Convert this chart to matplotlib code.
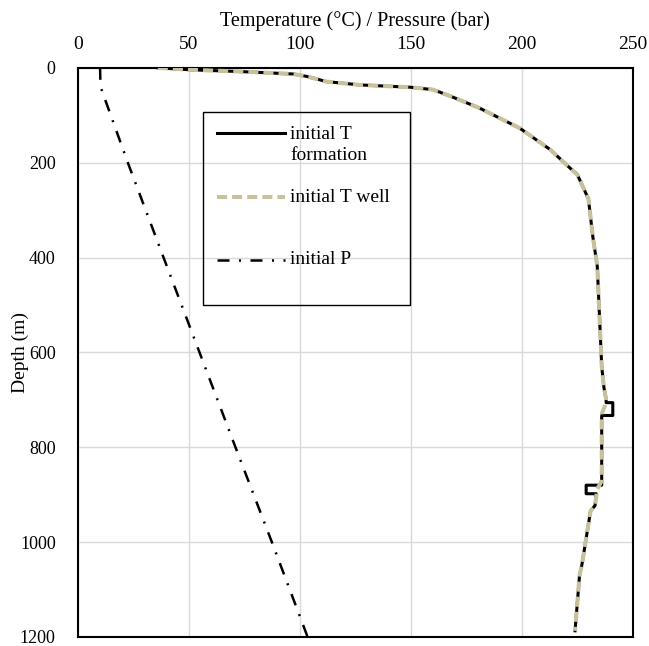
import matplotlib
matplotlib.use('Agg')
import matplotlib.pyplot as plt
from matplotlib.patches import Rectangle

# Данные
depth_form = [0, 4, 8, 13, 18, 29, 36, 41, 46, 60, 85, 127, 173, 204, 225, 276, 356, 418,
              524, 629, 674, 699, 706, 706, 733, 733, 871, 880, 880, 898, 898, 923, 934,
              1050, 1071, 1187]
temp_form = [36, 50, 74, 97, 103, 112, 127, 150, 160, 168, 181, 199, 213, 220, 225, 230, 232, 234,
             235, 236, 237, 238, 238, 241, 241, 236, 236, 236, 229, 229, 233.5, 233, 231,
             227, 226, 224]

depth_well = [0, 4, 8, 13, 18, 29, 36, 41, 46, 60, 85, 127, 173, 204, 225, 276, 356, 418,
              524, 629, 674, 699, 706, 730, 871, 888, 923, 934, 1050, 1071, 1187]
temp_well = [36, 50, 74, 97, 103, 112, 127, 150, 160, 168, 181, 199, 213, 220, 225, 230, 232, 234,
             235, 236, 237, 238, 238, 236, 236, 234, 233, 231, 227, 226, 224]

depth_p = [0, 40, 200, 400, 600, 800, 1000, 1200]
press = [10, 10.2, 22.5, 38.6, 54.8, 71.0, 87.4, 103.5]

x_ticks = [0, 50, 100, 150, 200, 250]
y_ticks = [0, 200, 400, 600, 800, 1000, 1200]

plt.rcParams['font.family'] = ['Liberation Serif', 'DejaVu Serif']
FS = 14

fig = plt.figure(figsize=(6.49, 6.46), dpi=100)
ax = fig.add_axes([0.120, 0.014, 0.855, 0.881])

TAN = '#c9c19c'
ls_well = (0, (2.5, 1.25))
ls_p = (0, (4.8, 3.8, 0.8, 3.8))

ax.plot(temp_form, depth_form, color='black', lw=2.2, zorder=3)
ax.plot(temp_well, depth_well, color=TAN, lw=2.9, linestyle=ls_well, zorder=4)
ax.plot(press, depth_p, color='black', lw=1.8, linestyle=ls_p, zorder=3)

ax.set_xlim(0, 250)
ax.set_ylim(1200, 0)
ax.set_xticks(x_ticks)
ax.set_yticks(y_ticks)
ax.xaxis.tick_top()
ax.xaxis.set_label_position('top')
ax.tick_params(axis='both', length=0)
ax.tick_params(axis='x', pad=10.5, labelsize=FS)
ax.tick_params(axis='y', pad=16, labelsize=13)
ax.set_xlabel('Temperature (°C) / Pressure (bar)', fontsize=14.5, labelpad=7.5)
ax.set_ylabel('Depth (m)', fontsize=FS)
ax.yaxis.set_label_coords(-0.088, 0.5)

ax.grid(True, color='#d9d9d9', lw=1.0)
ax.set_axisbelow(True)
for sp in ax.spines.values():
    sp.set_linewidth(1.5)
    sp.set_color('black')

# легенда вручную (как в Excel)
ax.add_patch(Rectangle((0.225, 0.583), 0.373, 0.340, transform=ax.transAxes,
                       fill=False, ec='black', lw=1.0, zorder=5))
hx = [0.250, 0.373]
ax.plot(hx, [0.886, 0.886], transform=ax.transAxes, color='black', lw=2.2, zorder=5)
ax.plot(hx, [0.773, 0.773], transform=ax.transAxes, color=TAN, lw=2.9, linestyle=ls_well, zorder=5)
ax.plot(hx, [0.663, 0.663], transform=ax.transAxes, color='black', lw=1.8, linestyle=ls_p, zorder=5)
ax.text(0.383, 0.865, 'initial T\nformation', transform=ax.transAxes, fontsize=FS,
        va='center', ha='left', linespacing=1.3)
ax.text(0.383, 0.773, 'initial T well', transform=ax.transAxes, fontsize=FS, va='center', ha='left')
ax.text(0.383, 0.663, 'initial P', transform=ax.transAxes, fontsize=FS, va='center', ha='left')

fig.savefig('out.png', dpi=100)
